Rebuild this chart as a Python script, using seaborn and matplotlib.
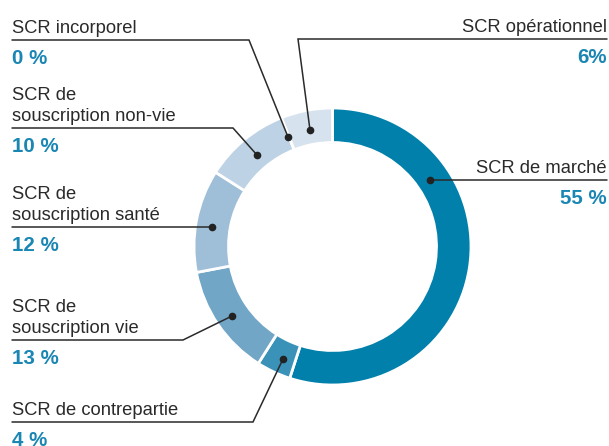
import matplotlib
matplotlib.use("Agg")
import matplotlib.pyplot as plt
import seaborn as sns

# ---- data ----
categories = ["SCR de marché", "SCR de contrepartie", "SCR de souscription vie",
              "SCR de souscription santé", "SCR de souscription non-vie",
              "SCR incorporel", "SCR opérationnel"]
label_texts = ["SCR de marché", "SCR de contrepartie", "SCR de\nsouscription vie",
               "SCR de\nsouscription santé", "SCR de\nsouscription non-vie",
               "SCR incorporel", "SCR opérationnel"]
values = [55, 4, 13, 12, 10, 0, 6]
pct_labels = ["55 %", "4 %", "13 %", "12 %", "10 %", "0 %", "6%"]
colors = ["#0080AA", "#3A92B9", "#72A6C7", "#9FBED8", "#BDD2E4", "#D4E0EC", "#D6E2ED"]

sns.set_theme(style="white")
plt.rcParams["font.family"] = ["Liberation Sans", "DejaVu Sans"]

W, H = 609, 446
fig = plt.figure(figsize=(W / 100, H / 100), dpi=100)
ax = fig.add_axes([0, 0, 1, 1])

def Y(y):
    return H - y

cx, cy, R, ring = 332.5, 246.5, 138.5, 34.5
ax.pie(values, colors=colors, startangle=90, counterclock=False,
       radius=R, center=(cx, Y(cy)),
       wedgeprops=dict(width=ring, edgecolor="white", linewidth=2))

# ---- annotation layout: (side, line_y, corner_x, dot_x, dot_y) ----
layout = {
    "SCR de marché": ("right", 180, 430, 430, 180),
    "SCR de contrepartie": ("left", 422, 253, 283, 359),
    "SCR de souscription vie": ("left", 340, 183, 232, 316),
    "SCR de souscription santé": ("left", 227, 212, 212, 227),
    "SCR de souscription non-vie": ("left", 128, 233, 257, 155),
    "SCR incorporel": ("left", 40, 249, 288, 137),
    "SCR opérationnel": ("right", 39, 298, 310, 130),
}
text_col = "#2a2a2a"
pct_col = "#1A86B3"
left_x, right_x = 12, 607

for cat, txt, pct in zip(categories, label_texts, pct_labels):
    side, ly, corner, dx, dy = layout[cat]
    x0 = left_x if side == "left" else right_x
    ha = "left" if side == "left" else "right"
    ax.plot([x0, corner, dx], [Y(ly), Y(ly), Y(dy)], color=text_col, lw=1.1,
            solid_joinstyle="miter", zorder=5)
    ax.plot([dx], [Y(dy)], "o", color="#222222", ms=4.5, zorder=6)
    ax.text(x0, Y(ly - 7), txt, ha=ha, va="baseline", fontsize=13.2,
            color=text_col, linespacing=1.3, multialignment=ha)
    ax.text(x0, Y(ly + 24), pct, ha=ha, va="baseline", fontsize=14.8,
            color=pct_col, fontweight="bold")

ax.set_xlim(0, W)
ax.set_ylim(0, H)
ax.set_aspect("equal")
ax.axis("off")
fig.savefig("out.png", dpi=100)
